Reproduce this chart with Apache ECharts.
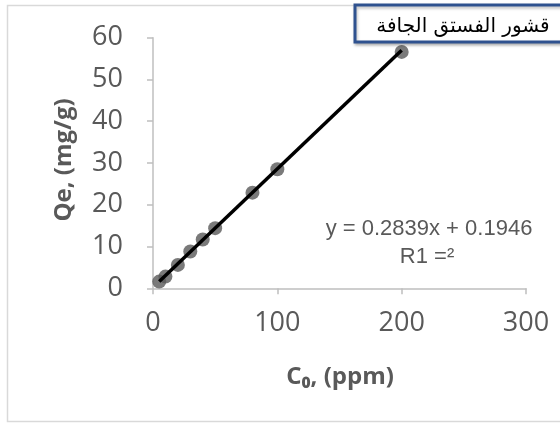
<!DOCTYPE html>
<html>
<head>
<meta charset="utf-8">
<script src="https://cdn.jsdelivr.net/npm/echarts@6/dist/echarts.min.js"></script>
<style>
  html, body { margin: 0; padding: 0; background: #fff; }
  #chart { width: 560px; height: 423px; }
</style>
</head>
<body>
<div id="chart"></div>
<script>
// Initial concentration (ppm) and adsorbed amount (mg/g)
const concentration = [5, 10, 20, 30, 40, 50, 80, 100, 200];
const adsorbed = [1.6, 2.8, 5.6, 8.8, 11.7, 14.4, 22.9, 28.5, 56.6];

// Linear fit reported on the chart
const slope = 0.2839;
const intercept = 0.1946;
const fitRange = [5, 200];

const xTicks = { min: 0, max: 300, step: 100 };
const yTicks = { min: 0, max: 60, step: 10 };

const titleText = 'قشور الفستق الجافة';
const equationText = 'y = 0.2839x + 0.1946';
const r2Text = 'R1 =²';
const xName = 'C₀, (ppm)';
const yName = 'Qe, (mg/g)';

const points = concentration.map((c, i) => [c, adsorbed[i]]);
const fitLine = fitRange.map(x => [x, slope * x + intercept]);

const grey = '#595959';
const axisGrey = '#bfbfbf';

const chart = echarts.init(document.getElementById('chart'), null, { renderer: 'canvas' });

chart.setOption({
  animation: false,
  backgroundColor: '#ffffff',
  grid: { left: 153, right: 34, top: 37.7, bottom: 134.7, containLabel: false },
  xAxis: {
    type: 'value',
    min: xTicks.min, max: xTicks.max, interval: xTicks.step,
    axisLine: { show: true, lineStyle: { color: axisGrey, width: 1.5 } },
    axisTick: { show: true, length: 6, lineStyle: { color: axisGrey, width: 1.5 } },
    splitLine: { show: false },
    axisLabel: { color: grey, fontFamily: 'Open Sans', fontSize: 27, margin: 22 }
  },
  yAxis: {
    type: 'value',
    min: yTicks.min, max: yTicks.max, interval: yTicks.step,
    axisLine: { show: true, lineStyle: { color: axisGrey, width: 1.5 } },
    axisTick: { show: true, length: 6, lineStyle: { color: axisGrey, width: 1.5 } },
    splitLine: { show: false },
    axisLabel: { color: grey, fontFamily: 'Open Sans', fontSize: 27, margin: 30 }
  },
  series: [
    {
      type: 'scatter',
      data: points,
      symbol: 'circle',
      symbolSize: 14,
      itemStyle: { color: '#595959' },
      z: 2
    },
    {
      type: 'line',
      data: fitLine,
      symbol: 'none',
      lineStyle: { color: '#000000', width: 3.5 },
      z: 3
    }
  ],
  graphic: [
    {
      type: 'rect',
      shape: { x: 7.5, y: 5.5, width: 570, height: 416 },
      style: { fill: 'none', stroke: '#d9d9d9', lineWidth: 1.5 },
      z: -1,
      silent: true
    },
    {
      type: 'text',
      x: 64, y: 160,
      rotation: Math.PI / 2,
      style: {
        text: yName, fill: grey, fontFamily: 'Open Sans', fontWeight: 'bold',
        fontSize: 24, textAlign: 'center', textVerticalAlign: 'middle'
      }
    },
    {
      type: 'text',
      x: 340, y: 377,
      style: {
        text: xName, fill: grey, fontFamily: 'Open Sans', fontWeight: 'bold',
        fontSize: 24, textAlign: 'center', textVerticalAlign: 'middle'
      }
    },
    {
      type: 'text',
      x: 429, y: 229,
      style: {
        text: equationText, fill: grey, fontFamily: 'Liberation Sans',
        fontSize: 22, textAlign: 'center', textVerticalAlign: 'middle'
      }
    },
    {
      type: 'text',
      x: 427, y: 257,
      style: {
        text: r2Text, fill: grey, fontFamily: 'Liberation Sans',
        fontSize: 22, textAlign: 'center', textVerticalAlign: 'middle'
      }
    },
    {
      type: 'rect',
      shape: { x: 355, y: 5, width: 220, height: 37 },
      style: {
        fill: '#ffffff', stroke: '#2f528f', lineWidth: 3,
        shadowColor: 'rgba(0,0,0,0.25)', shadowBlur: 3, shadowOffsetX: 1, shadowOffsetY: 2
      },
      z: 10
    },
    {
      type: 'text',
      x: 463, y: 27,
      style: {
        text: titleText, fill: '#000000', fontFamily: 'DejaVu Sans',
        fontSize: 20, textAlign: 'center', textVerticalAlign: 'middle'
      },
      z: 11
    }
  ]
});
</script>
</body>
</html>
